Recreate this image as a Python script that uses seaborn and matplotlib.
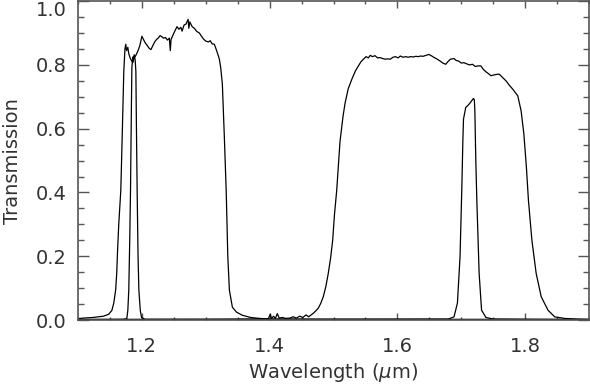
import numpy as np
import pandas as pd
import seaborn as sns
import matplotlib.pyplot as plt
from matplotlib.ticker import MultipleLocator

# broad J band
j_wl = [1.100, 1.108, 1.116, 1.124, 1.132, 1.140, 1.148, 1.153, 1.156, 1.159,
        1.1606, 1.162, 1.1638, 1.167, 1.169, 1.1717, 1.1735, 1.1748, 1.176, 1.178,
        1.1795, 1.182, 1.1858, 1.188, 1.1906, 1.194, 1.197, 1.200, 1.2025, 1.205,
        1.208, 1.2115, 1.2142, 1.217, 1.220, 1.223, 1.226, 1.2285, 1.2315, 1.234,
        1.237, 1.240, 1.243, 1.2445, 1.2457, 1.249, 1.252, 1.255, 1.258, 1.261,
        1.263, 1.266, 1.269, 1.2724, 1.2735, 1.275, 1.2787, 1.282, 1.286, 1.290,
        1.294, 1.297, 1.300, 1.304, 1.307, 1.310, 1.3134, 1.3165, 1.3195, 1.3213,
        1.3235, 1.326, 1.329, 1.332, 1.3345, 1.337, 1.3417, 1.348, 1.357, 1.370,
        1.384, 1.398, 1.500, 1.700, 1.900]
j_tr = [0.004, 0.006, 0.007, 0.008, 0.010, 0.012, 0.018, 0.030, 0.053, 0.095,
        0.146, 0.220, 0.300, 0.406, 0.560, 0.780, 0.850, 0.865, 0.845, 0.855,
        0.835, 0.820, 0.807, 0.822, 0.830, 0.845, 0.862, 0.890, 0.880, 0.870,
        0.862, 0.852, 0.848, 0.860, 0.872, 0.880, 0.885, 0.892, 0.888, 0.884,
        0.886, 0.878, 0.884, 0.845, 0.880, 0.895, 0.908, 0.920, 0.912, 0.918,
        0.906, 0.925, 0.928, 0.943, 0.915, 0.935, 0.920, 0.915, 0.905, 0.900,
        0.888, 0.880, 0.875, 0.872, 0.876, 0.866, 0.865, 0.848, 0.830, 0.818,
        0.790, 0.740, 0.580, 0.406, 0.200, 0.094, 0.040, 0.025, 0.015, 0.008,
        0.005, 0.003, 0.002, 0.002, 0.002]

# narrow filter near 1.19
jn_wl = [1.100, 1.170, 1.1764, 1.178, 1.1795, 1.181, 1.1822, 1.1835, 1.1843, 1.1858,
         1.187, 1.188, 1.1895, 1.1906, 1.1915, 1.1926, 1.194, 1.1953, 1.1975, 1.1995,
         1.205, 1.900]
jn_tr = [0.001, 0.002, 0.004, 0.030, 0.094, 0.250, 0.406, 0.650, 0.790, 0.825,
         0.820, 0.832, 0.815, 0.780, 0.600, 0.406, 0.200, 0.094, 0.030, 0.008,
         0.002, 0.001]

# broad H band
h_wl = [1.100, 1.200, 1.300, 1.380, 1.398, 1.401, 1.403, 1.406, 1.409, 1.412,
        1.415, 1.420, 1.425, 1.4315, 1.437, 1.442, 1.447, 1.452, 1.457, 1.461,
        1.4677, 1.472, 1.4761, 1.480, 1.484, 1.488, 1.4918, 1.4955, 1.4987, 1.5015,
        1.505, 1.5102, 1.5150, 1.5181, 1.523, 1.5287, 1.534, 1.539, 1.543, 1.5469,
        1.551, 1.5545, 1.5575, 1.561, 1.565, 1.569, 1.5732, 1.577, 1.581, 1.585,
        1.589, 1.593, 1.597, 1.601, 1.6047, 1.609, 1.613, 1.617, 1.6205, 1.625,
        1.629, 1.633, 1.6362, 1.640, 1.645, 1.6493, 1.653, 1.657, 1.6625, 1.667,
        1.671, 1.6756, 1.679, 1.683, 1.6887, 1.692, 1.696, 1.700, 1.7044, 1.709,
        1.713, 1.7176, 1.722, 1.726, 1.7307, 1.735, 1.739, 1.743, 1.7465, 1.750,
        1.754, 1.7595, 1.764, 1.7701, 1.775, 1.7806, 1.7885, 1.7937, 1.798, 1.802,
        1.8052, 1.8106, 1.8173, 1.8252, 1.8357, 1.8462, 1.8614, 1.880, 1.900]
h_tr = [0.002, 0.002, 0.002, 0.003, 0.004, 0.018, 0.004, 0.012, 0.005, 0.020,
        0.006, 0.008, 0.005, 0.006, 0.010, 0.006, 0.012, 0.008, 0.016, 0.010,
        0.020, 0.028, 0.037, 0.052, 0.073, 0.105, 0.146, 0.195, 0.250, 0.330,
        0.406, 0.560, 0.640, 0.680, 0.725, 0.755, 0.780, 0.797, 0.810, 0.818,
        0.826, 0.822, 0.830, 0.826, 0.829, 0.822, 0.823, 0.820, 0.818, 0.819,
        0.818, 0.824, 0.826, 0.822, 0.828, 0.824, 0.826, 0.824, 0.826, 0.825,
        0.827, 0.826, 0.828, 0.827, 0.830, 0.833, 0.829, 0.824, 0.818, 0.812,
        0.806, 0.802, 0.810, 0.818, 0.820, 0.814, 0.812, 0.806, 0.807, 0.803,
        0.800, 0.802, 0.795, 0.797, 0.797, 0.785, 0.778, 0.772, 0.766, 0.768,
        0.770, 0.771, 0.762, 0.750, 0.737, 0.724, 0.703, 0.656, 0.584, 0.479,
        0.375, 0.250, 0.146, 0.073, 0.031, 0.010, 0.005, 0.003, 0.002]

# narrow filter near 1.71
hn_wl = [1.100, 1.680, 1.6887, 1.694, 1.6981, 1.7008, 1.7025, 1.7035, 1.7071, 1.710,
         1.7123, 1.7165, 1.7192, 1.7205, 1.7213, 1.7228, 1.7244, 1.728, 1.7318, 1.7386,
         1.750, 1.900]
hn_tr = [0.001, 0.003, 0.010, 0.053, 0.198, 0.406, 0.560, 0.630, 0.667, 0.672,
         0.677, 0.688, 0.695, 0.690, 0.656, 0.500, 0.375, 0.146, 0.031, 0.008,
         0.003, 0.001]

sns.set_style('ticks')
plt.rcParams['font.family'] = ['DejaVu Sans']

fig, ax = plt.subplots(figsize=(5.9, 3.87), dpi=100)
fig.subplots_adjust(left=78/590, right=589/590, bottom=1-320/387, top=0.997)

for wl, tr in [(j_wl, j_tr), (jn_wl, jn_tr), (h_wl, h_tr), (hn_wl, hn_tr)]:
    sns.lineplot(x=wl, y=tr, color='black', linewidth=0.9,
                 estimator=None, sort=False, ax=ax)

ax.set_xlim(1.1, 1.9)
ax.set_ylim(0.0, 1.0)
ax.xaxis.set_minor_locator(MultipleLocator(0.05))
ax.yaxis.set_minor_locator(MultipleLocator(0.05))
ax.set_xticks([1.2, 1.4, 1.6, 1.8])
ax.set_xticklabels(['1.2', '1.4', '1.6', '1.8'])
ax.set_yticks([0.0, 0.2, 0.4, 0.6, 0.8, 1.0])
ax.set_yticklabels(['0.0', '0.2', '0.4', '0.6', '0.8', '1.0'])

for s in ax.spines.values():
    s.set_visible(True)
    s.set_color('#555555')
    s.set_linewidth(1.2)

ax.tick_params(axis='x', which='major', direction='in', length=5, width=1,
               top=True, bottom=True, pad=12, labelsize=14, color='#555555', labelcolor='#333333')
ax.tick_params(axis='x', which='minor', direction='in', length=2.5, width=1,
               top=True, bottom=True, color='#555555')
ax.tick_params(axis='y', which='major', direction='in', length=8, width=1,
               left=True, right=True, pad=8, labelsize=14, color='#555555', labelcolor='#333333')
ax.tick_params(axis='y', which='minor', direction='in', length=4, width=1,
               left=True, right=True, color='#555555')

# keep the top label inside the figure
ax.get_yticklabels()[-1].set_verticalalignment('top')

ax.set_xlabel(r'Wavelength ($\mu$m)', fontsize=14, color='#333333', labelpad=4)
ax.set_ylabel('Transmission', fontsize=14, color='#333333', labelpad=10)

plt.savefig('out.png', dpi=100)
